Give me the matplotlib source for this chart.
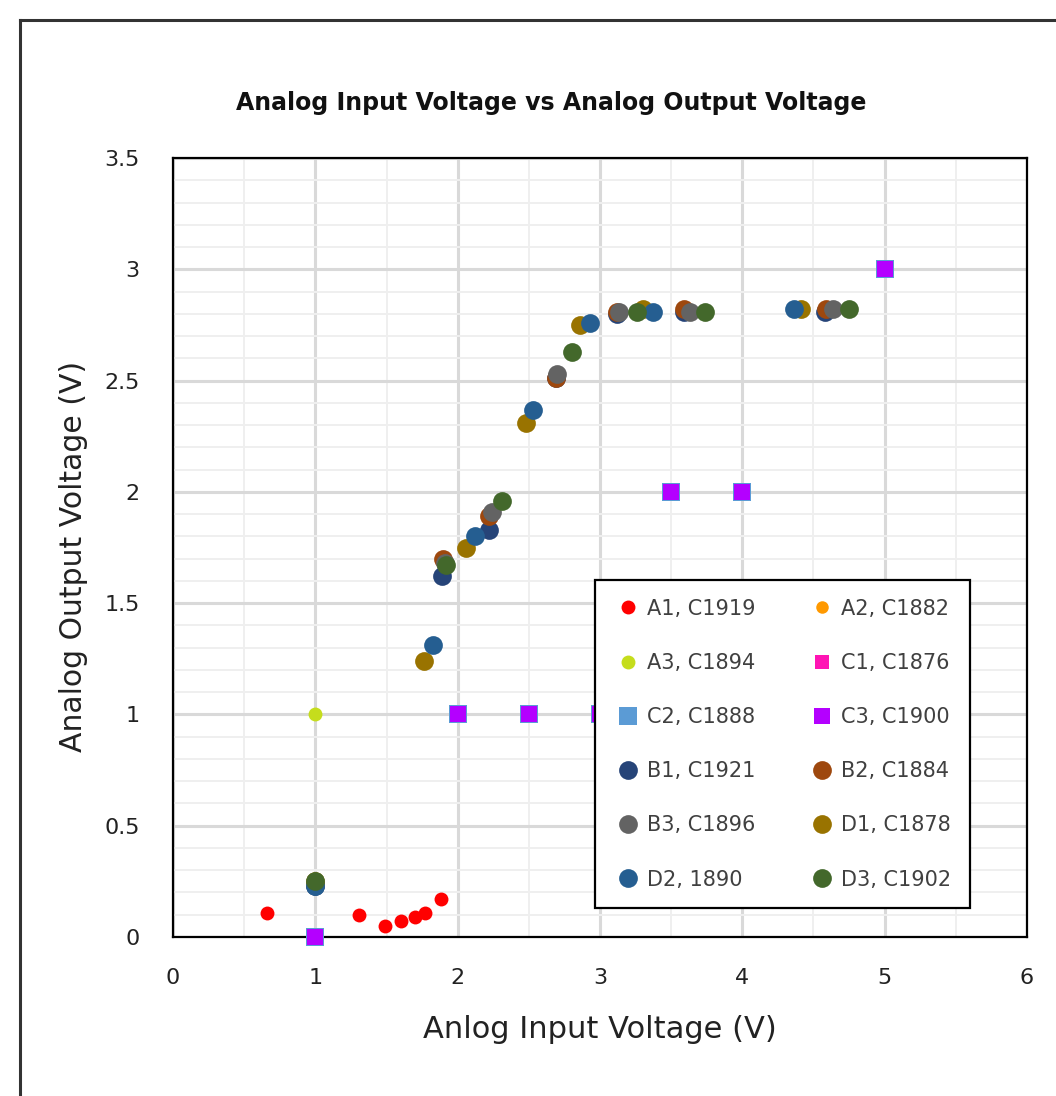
import matplotlib
matplotlib.use("Agg")
import matplotlib.pyplot as plt
from matplotlib.lines import Line2D
from matplotlib.ticker import MultipleLocator, FixedLocator

# ---------------- data ----------------
title = "Analog Input Voltage vs Analog Output Voltage"
x_label = "Anlog Input Voltage (V)"
y_label = "Analog Output Voltage (V)"
x_ticks = [0, 1, 2, 3, 4, 5, 6]
x_tick_labels = ["0", "1", "2", "3", "4", "5", "6"]
y_ticks = [0, 0.5, 1, 1.5, 2, 2.5, 3, 3.5]
y_tick_labels = ["0", "0.5", "1", "1.5", "2", "2.5", "3", "3.5"]

a1_x = [0.66, 1.31, 1.49, 1.60, 1.70, 1.77, 1.88]
a1_y = [0.11, 0.10, 0.05, 0.07, 0.09, 0.11, 0.17]
a2_x = [1.00, 3.31, 4.40]
a2_y = [0.25, 2.82, 2.82]
a3_x = [1.00]
a3_y = [1.00]
c1_x = [1.0, 2.0, 2.5, 3.0, 3.5, 4.0, 5.0]
c1_y = [0.0, 1.0, 1.0, 1.0, 2.0, 2.0, 3.0]
c2_x = [1.0, 2.0, 2.5, 3.0, 3.5, 4.0, 5.0]
c2_y = [0.0, 1.0, 1.0, 1.0, 2.0, 2.0, 3.0]
c3_x = [1.0, 2.0, 2.5, 3.0, 3.5, 4.0, 5.0]
c3_y = [0.0, 1.0, 1.0, 1.0, 2.0, 2.0, 3.0]
b1_x = [1.00, 1.89, 2.22, 2.69, 3.12, 3.59, 4.58]
b1_y = [0.23, 1.62, 1.83, 2.51, 2.80, 2.81, 2.81]
b2_x = [1.00, 1.90, 2.22, 2.69, 3.12, 3.59, 4.59]
b2_y = [0.24, 1.70, 1.89, 2.51, 2.81, 2.82, 2.82]
b3_x = [1.00, 1.91, 2.24, 2.70, 3.13, 3.63, 4.64]
b3_y = [0.24, 1.68, 1.91, 2.53, 2.81, 2.81, 2.82]
d1_x = [1.00, 1.76, 2.06, 2.48, 2.86, 3.30, 4.41]
d1_y = [0.25, 1.24, 1.75, 2.31, 2.75, 2.82, 2.82]
d2_x = [1.00, 1.83, 2.12, 2.53, 2.93, 3.37, 4.36]
d2_y = [0.23, 1.31, 1.80, 2.37, 2.76, 2.81, 2.82]
d3_x = [1.00, 1.92, 2.31, 2.80, 3.26, 3.74, 4.75]
d3_y = [0.25, 1.67, 1.96, 2.63, 2.81, 2.81, 2.82]

series_names = ["A1, C1919", "A2, C1882", "A3, C1894", "C1, C1876", "C2, C1888", "C3, C1900",
                "B1, C1921", "B2, C1884", "B3, C1896", "D1, C1878", "D2, 1890", "D3, C1902"]
series_x = [a1_x, a2_x, a3_x, c1_x, c2_x, c3_x, b1_x, b2_x, b3_x, d1_x, d2_x, d3_x]
series_y = [a1_y, a2_y, a3_y, c1_y, c2_y, c3_y, b1_y, b2_y, b3_y, d1_y, d2_y, d3_y]

# ---------------- styles ----------------
colors = ["#FF0000", "#FF9900", "#C5DD1C", "#FF14B4", "#5B9BD5", "#B400FF",
          "#264478", "#9E480E", "#636363", "#997300", "#255E91", "#43682B"]
markers = ["o", "o", "o", "s", "s", "s", "o", "o", "o", "o", "o", "o"]
msizes = [10, 9, 10, 9.5, 13, 11, 13.5, 13.5, 13.5, 13.5, 13.5, 13.5]

fig = plt.figure(figsize=(10.56, 10.96), dpi=100)
W, H = 1056, 1096
ax = fig.add_axes([173 / W, 1 - 937 / H, (1027 - 173) / W, (937 - 158) / H])

handles = []
for i, name in enumerate(series_names):
    h, = ax.plot(series_x[i], series_y[i], linestyle="none", marker=markers[i],
                 markersize=msizes[i], color=colors[i], markeredgewidth=0,
                 label=name, clip_on=False, zorder=3 + i)
    handles.append(h)

ax.set_xlim(0, 6)
ax.set_ylim(0, 3.5)
ax.xaxis.set_major_locator(FixedLocator(x_ticks))
ax.yaxis.set_major_locator(FixedLocator(y_ticks))
ax.set_xticklabels(x_tick_labels)
ax.set_yticklabels(y_tick_labels)
ax.xaxis.set_minor_locator(MultipleLocator(0.5))
ax.yaxis.set_minor_locator(MultipleLocator(0.1))
ax.grid(which="minor", color="#EFEFEF", linewidth=1.4, zorder=0)
ax.grid(which="major", color="#D9D9D9", linewidth=2.2, zorder=1)
ax.set_axisbelow(True)
ax.tick_params(which="both", length=0)
ax.tick_params(axis="x", pad=22, labelsize=16, labelcolor="#222222")
ax.tick_params(axis="y", pad=24, labelsize=16, labelcolor="#222222")
for s in ax.spines.values():
    s.set_color("#000000")
    s.set_linewidth(1.6)

ax.set_xlabel(x_label, fontsize=22, color="#222222", labelpad=20)
ax.set_ylabel(y_label, fontsize=21.5, color="#222222", labelpad=10)
ax.yaxis.set_label_coords(-0.100, (937 - 556) / 779)
fig.text(551 / W, 1 - 103 / H, title, fontsize=17, fontweight="bold",
         ha="center", va="center", color="#111111")

# legend, row order as in the reference (two columns)
order = [0, 2, 4, 6, 8, 10, 1, 3, 5, 7, 9, 11]
leg = ax.legend([handles[k] for k in order], [series_names[k] for k in order],
                ncol=2, loc="upper left",
                bbox_to_anchor=((595 - 173) / 854, (937 - 580) / 779),
                borderaxespad=0, frameon=True, fancybox=False,
                edgecolor="#000000", framealpha=1, fontsize=15,
                labelspacing=1.64, handlelength=1.4, handletextpad=0.2,
                columnspacing=2.5, borderpad=0.9, numpoints=1)
leg.get_frame().set_linewidth(1.6)
for t in leg.get_texts():
    t.set_color("#404040")
leg.set_zorder(20)

# outer chart frame (cut off at right and bottom)
fig.add_artist(Line2D([20 / W, 20 / W], [0, 1 - 20 / H], transform=fig.transFigure,
                      color="#333333", linewidth=2.2))
fig.add_artist(Line2D([20 / W, 1], [1 - 20 / H, 1 - 20 / H], transform=fig.transFigure,
                      color="#333333", linewidth=2.2))

fig.savefig("out.png", dpi=100)
